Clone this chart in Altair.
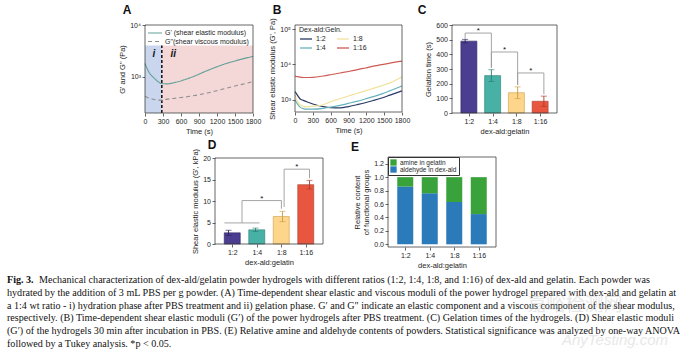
import altair as alt
import pandas as pd

SANS = "Liberation Sans"
SERIF = "Liberation Serif"
INK = "#1e1e1e"
FRAME = "#404040"

# ---------------- Panel A : G' / G'' vs time (1:4) ----------------
a_time = [0, 40, 83, 130, 167, 220, 283, 367, 500, 750, 1033, 1300, 1583, 1800]
a_gprime = [1800, 1400, 1145, 1000, 910, 800, 740, 730, 780, 955, 1310, 1720, 2150, 2480]
a_gdouble = [420, 400, 385, 370, 360, 355, 355, 370, 385, 420, 485, 580, 700, 805]
a_series = ["G' (shear elastic modulus)", 'G"(shear viscous modulus)']
a_line_colors = ["#62a199", "#8e8e8e"]
a_phase_start = [0, 280]
a_phase_end = [280, 1800]
a_phase_low = [200, 200]
a_phase_high = [4000, 4000]
a_phase_fill = ["#c9d6ed", "#f4d7d7"]
a_phase_names = ["i", "ii"]
a_phase_name_t = [150, 470]
a_phase_name_v = [2800, 2800]
a_x_domain = [0, 1800]
a_y_domain = [200, 10000]
time_ticks = [0, 300, 600, 900, 1200, 1500, 1800]

# ---------------- Panel B : G' vs time for each ratio ----------------
b_time = [0, 40, 84, 140, 196, 300, 476, 600, 757, 900, 1037, 1180, 1318, 1460, 1598, 1800]
b_12 = [1700, 1350, 1070, 960, 880, 760, 640, 600, 590, 640, 720, 820, 950, 1120, 1350, 1780]
b_14 = [1000, 760, 620, 560, 540, 540, 570, 620, 690, 790, 900, 1050, 1230, 1470, 1800, 2450]
b_18 = [1400, 900, 720, 650, 630, 650, 720, 880, 1070, 1280, 1500, 1780, 2100, 2500, 3000, 4500]
b_116 = [4700, 4500, 4350, 4250, 4250, 4300, 4700, 5100, 5700, 6300, 7000, 7900, 8900, 9900, 10900, 12300]
b_ratios = ["1:2", "1:4", "1:8", "1:16"]
b_colors = ["#2b3966", "#66b2bb", "#f1e29c", "#cd5b55"]
b_x_domain = [0, 1800]
b_y_domain = [450, 130000]

# ---------------- shared bar categories ----------------
ratio_labels = ["1:2", "1:4", "1:8", "1:16"]
ratio_index = [0, 1, 2, 3]
ratio_domain = [-0.5, 3.5]
bar_fill = ["#4b3d8f", "#48b1a6", "#fed68b", "#e9563f"]
bar_edge = ["#2d2461", "#2b7c73", "#c99c45", "#a93a2b"]

# ---------------- Panel C : gelation time ----------------
c_gel_time = [490, 255, 138, 80]
c_gel_err = [12, 40, 40, 35]
c_br_from = [0, 1, 2]
c_br_to = [1, 2, 3]
c_br_top = [545, 416, 273]
c_br_from_end = [505, 314, 190]
c_br_to_end = [307, 191, 128]
c_y_domain = [0, 600]
c_y_ticks = [0, 100, 200, 300, 400, 500, 600]

# ---------------- Panel D : shear modulus after 30 min ----------------
d_modulus = [2.6, 3.3, 6.4, 13.8]
d_err = [0.6, 0.4, 1.2, 1.0]
d_group_from = [-0.15]
d_group_to = [1.15]
d_group_level = [4.9]
d_br_from = [0.5, 2.06]
d_br_to = [1.96, 3]
d_br_top = [10.1, 17.4]
d_br_from_end = [4.9, 8.6]
d_br_to_end = [8.2, 15.3]
d_y_domain = [0, 20]
d_y_ticks = [0, 5, 10, 15, 20]

# ---------------- Panel E : relative content ----------------
e_groups = ["amine in gelatin", "aldehyde in dex-ald"]
e_colors = ["#3aa23a", "#2b7bba"]
e_aldehyde = [0.86, 0.76, 0.63, 0.45]
e_amine = [0.14, 0.24, 0.37, 0.55]
e_y_domain = [-0.04, 1.3]
e_y_ticks = [0, 0.2, 0.4, 0.6, 0.8, 1.0, 1.2]

# ---------------- caption ----------------
cap_bold = "Fig. 3."
cap_lines = [
    "Mechanical characterization of dex-ald/gelatin powder hydrogels with different ratios (1:2, 1:4, 1:8, and 1:16) of dex-ald and gelatin. Each powder was",
    "hydrated by the addition of 3 mL PBS per g powder. (A) Time-dependent shear elastic and viscous moduli of the power hydrogel prepared with dex-ald and gelatin at",
    "a 1:4 wt ratio - i) hydration phase after PBS treatment and ii) gelation phase. G\u2032 and G\u2033 indicate an elastic component and a viscous component of the shear modulus,",
    "respectively. (B) Time-dependent shear elastic moduli (G\u2032) of the power hydrogels after PBS treatment. (C) Gelation times of the hydrogels. (D) Shear elastic moduli",
    "(G\u2032) of the hydrogels 30 min after incubation in PBS. (E) Relative amine and aldehyde contents of powders. Statistical significance was analyzed by one-way ANOVA",
    "followed by a Tukey analysis. *p < 0.05.",
]
watermark = ["\u5609\u5cea\u68c0\u6d4b\u7f51", "AnyTesting.com"]

# ---------------- layout (pixels, relative to panel A's top-left corner) ----------------
W, H = 412, 222
PAD_L, PAD_T = 145, 25
RECT = {  # x0, x1, y0(top), y1(bottom)
    "A": (0, 108, 0, 88),
    "B": (150, 257, 0, 87),
    "C": (307, 412, 0, 88),
    "D": (70, 178, 133, 219),
    "E": (243, 351, 132, 222),
}
LOGLAB = "datum.value >= 100000 ? '10\u2075' : datum.value >= 10000 ? '10\u2074' : '10\u00b3'"
CAT_EXPR = "[" + ",".join("'%s'" % c for c in ratio_labels) + "][datum.value]"
LINE_KEY = "M-1,0H3"   # legend key: a short horizontal stroke starting at the key's left edge


def scales(p, xdom, ydom, ylog=False):
    x0, x1, y0, y1 = RECT[p]
    xs = alt.Scale(domain=xdom, range=[x0, x1], nice=False, zero=False)
    if ylog:
        ys = alt.Scale(type="log", domain=ydom, range=[y1, y0], nice=False)
    else:
        ys = alt.Scale(domain=ydom, range=[y1, y0], nice=False, zero=False)
    return xs, ys


def axes(p, xkw, ykw):
    x0, x1, y0, y1 = RECT[p]
    xa = alt.Axis(orient="bottom", offset=y1 - H, **xkw)
    ya = alt.Axis(orient="left", offset=-x0, **ykw)
    return xa, ya


def letter(ch, x, y):
    return alt.Chart(pd.DataFrame({"L": [ch]})).mark_text(
        font=SANS, fontSize=12, fontWeight="bold", color="#111111",
        align="center", baseline="middle").encode(x=alt.value(x), y=alt.value(y), text="L:N")


def frame(xf, yf, xs, ys, xdom, ydom):
    df = pd.DataFrame({xf: [xdom[0]], xf + "2": [xdom[1]], yf: [ydom[0]], yf + "2": [ydom[1]]})
    return alt.Chart(df).mark_rect(fillOpacity=0, stroke=FRAME, strokeWidth=0.8).encode(
        x=alt.X(xf + ":Q", scale=xs, axis=None), x2=xf + "2:Q",
        y=alt.Y(yf + ":Q", scale=ys, axis=None), y2=yf + "2:Q")


layers = []

# ===== Panel A =====
xsA, ysA = scales("A", a_x_domain, a_y_domain, ylog=True)
xaA, yaA = axes("A", dict(values=time_ticks, format="d", title="Time (s)"),
                dict(values=[1000, 10000], labelExpr=LOGLAB, title="G' and G\" (Pa)"))
xA = alt.X("t:Q", scale=xsA, axis=None)
yA = alt.Y("v:Q", scale=ysA, axis=None)
a_phase_df = pd.DataFrame({"t": a_phase_start, "t2": a_phase_end, "v": a_phase_low,
                           "v2": a_phase_high, "fill": a_phase_fill})
layers.append(alt.Chart(a_phase_df).mark_rect().encode(
    x=xA, x2="t2:Q", y=yA, y2="v2:Q", color=alt.Color("fill:N", scale=None)))
a_div_df = pd.DataFrame({"t": a_phase_end[:1], "v": a_phase_low[:1], "v2": a_phase_high[:1]})
layers.append(alt.Chart(a_div_df).mark_rule(color="#1a1a1a", strokeWidth=1.6, strokeDash=[3, 2]).encode(
    x=xA, y=yA, y2="v2:Q"))
a_lines_df = pd.DataFrame({"t": a_time + a_time, "v": a_gprime + a_gdouble,
                           "s": [a_series[0]] * len(a_time) + [a_series[1]] * len(a_time)})
a_leg = dict(title=None, orient="none", legendX=RECT["A"][0] + 2, legendY=RECT["A"][2] + 3.5,
             symbolType=LINE_KEY, symbolSize=49, symbolStrokeWidth=1.2, labelFontSize=7,
             labelOffset=9, rowPadding=0.5, labelLimit=200)
layers.append(alt.Chart(a_lines_df).mark_line(strokeWidth=1.1, interpolate="monotone").encode(
    x=alt.X("t:Q", scale=xsA, axis=xaA), y=alt.Y("v:Q", scale=ysA, axis=yaA),
    color=alt.Color("s:N", scale=alt.Scale(domain=a_series, range=a_line_colors), legend=alt.Legend(**a_leg)),
    strokeDash=alt.StrokeDash("s:N", scale=alt.Scale(domain=a_series, range=[[1, 0], [4, 3]]),
                              legend=alt.Legend(**a_leg))))
a_names_df = pd.DataFrame({"t": a_phase_name_t, "v": a_phase_name_v, "n": a_phase_names})
layers.append(alt.Chart(a_names_df).mark_text(font=SANS, fontSize=10, fontWeight="bold", fontStyle="italic",
                                              color="#111111").encode(x=xA, y=yA, text="n:N"))
layers.append(frame("t", "v", xsA, ysA, a_x_domain, a_y_domain))
layers.append(letter("A", RECT["A"][0] - 18, RECT["A"][2] - 15))

# ===== Panel B =====
xsB, ysB = scales("B", b_x_domain, b_y_domain, ylog=True)
xaB, yaB = axes("B", dict(values=time_ticks, format="d", title="Time (s)"),
                dict(values=[1000, 10000, 100000], labelExpr=LOGLAB, title="Shear elastic modulus (G', Pa)"))
b_series = {"1:2": b_12, "1:4": b_14, "1:8": b_18, "1:16": b_116}
b_rows = []
for name, vals in b_series.items():
    for t, v in zip(b_time, vals):
        b_rows.append({"t": t, "v": v, "r": name})
b_df = pd.DataFrame(b_rows)
layers.append(alt.Chart(b_df).mark_line(strokeWidth=1.2, interpolate="monotone").encode(
    x=alt.X("t:Q", scale=xsB, axis=xaB), y=alt.Y("v:Q", scale=ysB, axis=yaB),
    color=alt.Color("r:N", scale=alt.Scale(domain=b_ratios, range=b_colors),
                    legend=alt.Legend(title="Dex-ald:Geln.", orient="none", legendX=RECT["B"][0] + 4,
                                      legendY=RECT["B"][2] + 1, columns=2,
                                      symbolType=LINE_KEY, symbolSize=36, symbolStrokeWidth=1.3,
                                      labelFontSize=7, titleFontSize=7, titlePadding=2, columnPadding=8,
                                      rowPadding=2, labelOffset=9))))
layers.append(frame("t", "v", xsB, ysB, b_x_domain, b_y_domain))
layers.append(letter("B", RECT["B"][0] - 18, RECT["B"][2] - 15))


# ===== bar helpers =====
def bar_layers(vals, errs, xs, ys, xa, ya):
    df = pd.DataFrame({"i": ratio_index, "v": vals, "fill": bar_fill, "edge": bar_edge})
    xe = alt.X("i:Q", scale=xs, axis=None)
    ye = alt.Y("v:Q", scale=ys, axis=None)
    bars = alt.Chart(df).mark_bar(size=16, strokeWidth=0.6).encode(
        x=alt.X("i:Q", scale=xs, axis=xa), y=alt.Y("v:Q", scale=ys, axis=ya),
        color=alt.Color("fill:N", scale=None), stroke=alt.Stroke("edge:N", scale=None))
    lo = [a - b for a, b in zip(vals, errs)]
    hi = [a + b for a, b in zip(vals, errs)]
    edf = pd.DataFrame({"i": ratio_index, "v": lo, "v2": hi, "edge": bar_edge})
    whisk = alt.Chart(edf).mark_rule(strokeWidth=0.9).encode(
        x=xe, y=ye, y2="v2:Q", color=alt.Color("edge:N", scale=None))
    cdf = pd.DataFrame({"i": ratio_index * 2, "v": lo + hi, "edge": bar_edge * 2})
    caps = alt.Chart(cdf).mark_tick(orient="horizontal", size=6, thickness=0.9).encode(
        x=xe, y=ye, color=alt.Color("edge:N", scale=None))
    return [bars, whisk, caps]


def bracket_layers(frm, to, top, frm_end, to_end, xs, ys, extra_x=(), extra_x2=(), extra_v=()):
    xe = alt.X("i:Q", scale=xs, axis=None)
    ye = alt.Y("v:Q", scale=ys, axis=None)
    sx = list(frm) + list(frm) + list(to) + list(extra_x)
    sx2 = list(to) + list(frm) + list(to) + list(extra_x2)
    sv = list(top) + list(frm_end) + list(to_end) + list(extra_v)
    sv2 = list(top) + list(top) + list(top) + list(extra_v)
    sdf = pd.DataFrame({"i": sx, "i2": sx2, "v": sv, "v2": sv2})
    rules = alt.Chart(sdf).mark_rule(color="#9b9b9b", strokeWidth=0.9).encode(
        x=xe, x2="i2:Q", y=ye, y2="v2:Q")
    star_df = pd.DataFrame({"i": [(a + b) / 2 for a, b in zip(frm, to)], "v": list(top)})
    stars = alt.Chart(star_df).mark_text(text="*", font=SANS, fontSize=8, color="#111111",
                                         baseline="middle", dy=-2).encode(x=xe, y=ye)
    return [rules, stars]


cat_axis = dict(values=ratio_index, labelExpr=CAT_EXPR, title="dex-ald:gelatin")

# ===== Panel C =====
xsC, ysC = scales("C", ratio_domain, c_y_domain)
xaC, yaC = axes("C", cat_axis, dict(values=c_y_ticks, title="Gelation time (s)"))
layers += bar_layers(c_gel_time, c_gel_err, xsC, ysC, xaC, yaC)
layers += bracket_layers(c_br_from, c_br_to, c_br_top, c_br_from_end, c_br_to_end, xsC, ysC)
layers.append(frame("i", "v", xsC, ysC, ratio_domain, c_y_domain))
layers.append(letter("C", RECT["C"][0] - 30, RECT["C"][2] - 15))

# ===== Panel D =====
xsD, ysD = scales("D", ratio_domain, d_y_domain)
xaD, yaD = axes("D", cat_axis, dict(values=d_y_ticks, title="Shear elastic modulus (G', kPa)"))
layers += bar_layers(d_modulus, d_err, xsD, ysD, xaD, yaD)
layers += bracket_layers(d_br_from, d_br_to, d_br_top, d_br_from_end, d_br_to_end, xsD, ysD,
                         d_group_from, d_group_to, d_group_level)
layers.append(frame("i", "v", xsD, ysD, ratio_domain, d_y_domain))
layers.append(letter("D", RECT["D"][0] - 3, RECT["D"][2] - 13))

# ===== Panel E =====
xsE, ysE = scales("E", ratio_domain, e_y_domain)
xaE, yaE = axes("E", cat_axis, dict(values=e_y_ticks, format=".1f",
                                    title=["Relative content", "of functional groups"]))
e_df = pd.DataFrame({"i": ratio_index * 2, "v": e_aldehyde + e_amine,
                     "g": [e_groups[1]] * 4 + [e_groups[0]] * 4, "o": [0] * 4 + [1] * 4})
layers.append(alt.Chart(e_df).mark_bar(size=16).encode(
    x=alt.X("i:Q", scale=xsE, axis=xaE),
    y=alt.Y("v:Q", stack="zero", scale=ysE, axis=yaE),
    color=alt.Color("g:N", scale=alt.Scale(domain=e_groups, range=e_colors),
                    legend=alt.Legend(title=None, orient="none", legendX=RECT["E"][0],
                                      legendY=RECT["E"][2], symbolType="square",
                                      symbolSize=40, symbolStrokeWidth=0, labelFontSize=6.5, rowPadding=0,
                                      labelOffset=3, padding=2, strokeColor="#333333", fillColor="white")),
    order=alt.Order("o:Q")))
layers.append(frame("i", "v", xsE, ysE, ratio_domain, e_y_domain))
layers.append(letter("E", RECT["E"][0] - 33, RECT["E"][2] - 10))

# ===== caption =====
CAP_X = 7 - PAD_L
CAP_FS = 10.1
ycap = alt.Y("k:Q", scale=alt.Scale(domain=[0, 5], range=[255, 319]), axis=None)
layers.append(alt.Chart(pd.DataFrame({"k": [0], "txt": [cap_bold]})).mark_text(
    font=SERIF, fontSize=CAP_FS, fontWeight="bold", align="left", baseline="middle", color="#111111").encode(
    x=alt.value(CAP_X), y=ycap, text="txt:N"))
layers.append(alt.Chart(pd.DataFrame({"k": [0], "txt": cap_lines[:1]})).mark_text(
    font=SERIF, fontSize=CAP_FS, align="left", baseline="middle", color="#111111").encode(
    x=alt.value(CAP_X + 32), y=ycap, text="txt:N"))
layers.append(alt.Chart(pd.DataFrame({"k": list(range(1, 6)), "txt": cap_lines[1:]})).mark_text(
    font=SERIF, fontSize=CAP_FS, align="left", baseline="middle", color="#111111").encode(
    x=alt.value(CAP_X), y=ycap, text="txt:N"))
layers.append(alt.Chart(pd.DataFrame({"w": watermark[:1]})).mark_text(
    font="Noto Sans CJK SC", fontSize=19, color="#bdbdbd", opacity=0.35, align="center",
    baseline="middle").encode(x=alt.value(575 - PAD_L), y=alt.value(305 - PAD_T), text="w:N"))
layers.append(alt.Chart(pd.DataFrame({"w": watermark[1:]})).mark_text(
    font=SANS, fontSize=15, fontStyle="italic", color="#bdbdbd", opacity=0.35, align="center",
    baseline="middle").encode(x=alt.value(615 - PAD_L), y=alt.value(340 - PAD_T), text="w:N"))

chart = alt.layer(*layers).resolve_scale(
    x="independent", y="independent", color="independent", strokeDash="independent", stroke="independent"
).properties(
    width=W, height=H,
    autosize=alt.AutoSizeParams(type="none"),
    padding={"left": PAD_L, "top": PAD_T, "right": 680 - PAD_L - W, "bottom": 356 - PAD_T - H},
    background="white",
).configure_view(stroke="transparent").configure_axis(
    labelFont=SANS, titleFont=SANS, labelFontSize=7, titleFontSize=7.5, titleFontWeight="normal",
    labelColor=INK, titleColor=INK, grid=False, domain=False, ticks=True, tickSize=3,
    tickColor=FRAME, tickWidth=0.8, labelPadding=1.5, titlePadding=3, labelOverlap=False, labelFlush=False
).configure_legend(
    labelFont=SANS, titleFont=SANS, labelColor=INK, titleColor=INK, titleFontWeight="normal"
)

chart.save("out.html", embed_options={"renderer": "svg", "actions": False})
